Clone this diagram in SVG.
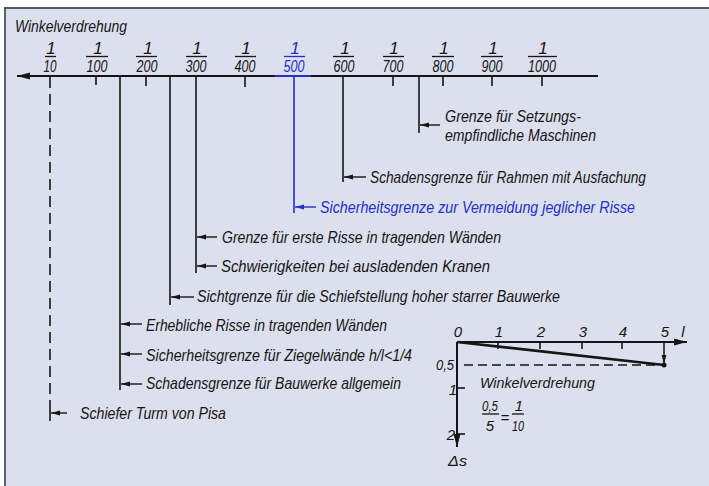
<svg xmlns="http://www.w3.org/2000/svg" width="709" height="486" viewBox="0 0 709 486">
<style>
text{font-family:"Liberation Sans Narrow","Liberation Sans",Arial,sans-serif;font-style:italic;fill:#151515}
.lb{font-size:17px}
.fr{font-size:17px;text-anchor:middle}
.sm{font-size:15px}
.smc{font-size:15px;text-anchor:middle}
.blue{fill:#2030c8}
.ln{stroke:#151515;stroke-width:1.6;fill:none}
.bl{stroke:#2030c8;stroke-width:1.6;fill:none}
.bar{stroke:#151515;stroke-width:1.3}
.arr{stroke:#151515;stroke-width:1.4;marker-end:url(#ah)}
.arrb{stroke:#2030c8;stroke-width:1.4;marker-end:url(#ahb)}
</style>
<defs>
<marker id="ah" markerUnits="userSpaceOnUse" markerWidth="9" markerHeight="6" refX="9" refY="3" orient="auto"><path d="M0,0.6 L9,3 L0,5.4z" fill="#151515"/></marker>
<marker id="ahb" markerUnits="userSpaceOnUse" markerWidth="9" markerHeight="6" refX="9" refY="3" orient="auto"><path d="M0,0.6 L9,3 L0,5.4z" fill="#2030c8"/></marker>
<marker id="big" markerUnits="userSpaceOnUse" markerWidth="13" markerHeight="8" refX="13" refY="4" orient="auto"><path d="M0,0.5 L13,4 L0,7.5z" fill="#151515"/></marker>
</defs>
<rect x="0" y="0" width="709" height="486" fill="#ffffff"/>
<rect x="4" y="8" width="705" height="478" fill="#dcdfee"/>
<line x1="4" y1="8" x2="709" y2="8" stroke="#5a5a5a" stroke-width="2"/>
<line x1="5" y1="8" x2="5" y2="486" stroke="#3a3a3a" stroke-width="1.5"/>

<g id="title"><text x="15" y="32" textLength="112" lengthAdjust="spacingAndGlyphs" style="font-size:16px">Winkelverdrehung</text></g>

<g id="scale">
<line x1="598" y1="76" x2="17" y2="76" stroke="#151515" stroke-width="2" marker-end="url(#big)"/>
<line x1="275" y1="76" x2="311" y2="76" stroke="#2030c8" stroke-width="2.2"/>
<g id="f10"><text class="fr" x="51" y="54">1</text><line class="bar" x1="45" y1="56.5" x2="56" y2="56.5"/><text class="fr" x="50" y="72" textLength="13" lengthAdjust="spacingAndGlyphs">10</text></g>
<g id="f100"><text class="fr" x="98" y="54">1</text><line class="bar" x1="86" y1="56.5" x2="108" y2="56.5"/><text class="fr" x="97" y="72" textLength="21" lengthAdjust="spacingAndGlyphs">100</text></g>
<g id="f200"><text class="fr" x="148" y="54">1</text><line class="bar" x1="136" y1="56.5" x2="157" y2="56.5"/><text class="fr" x="147" y="72" textLength="21" lengthAdjust="spacingAndGlyphs">200</text></g>
<g id="f300"><text class="fr" x="197" y="54">1</text><line class="bar" x1="186" y1="56.5" x2="207" y2="56.5"/><text class="fr" x="196" y="72" textLength="21" lengthAdjust="spacingAndGlyphs">300</text></g>
<g id="f400"><text class="fr" x="246" y="54">1</text><line class="bar" x1="235" y1="56.5" x2="256" y2="56.5"/><text class="fr" x="245" y="72" textLength="21" lengthAdjust="spacingAndGlyphs">400</text></g>
<g id="f500"><text class="fr blue" x="295" y="54">1</text><line x1="284" y1="56.5" x2="305" y2="56.5" stroke="#2030c8" stroke-width="1.3"/><text class="fr blue" x="294" y="72" textLength="21" lengthAdjust="spacingAndGlyphs">500</text></g>
<g id="f600"><text class="fr" x="345" y="54">1</text><line class="bar" x1="333" y1="56.5" x2="354" y2="56.5"/><text class="fr" x="344" y="72" textLength="21" lengthAdjust="spacingAndGlyphs">600</text></g>
<g id="f700"><text class="fr" x="394" y="54">1</text><line class="bar" x1="383" y1="56.5" x2="404" y2="56.5"/><text class="fr" x="393" y="72" textLength="21" lengthAdjust="spacingAndGlyphs">700</text></g>
<g id="f800"><text class="fr" x="444" y="54">1</text><line class="bar" x1="432" y1="56.5" x2="454" y2="56.5"/><text class="fr" x="443" y="72" textLength="21" lengthAdjust="spacingAndGlyphs">800</text></g>
<g id="f900"><text class="fr" x="493" y="54">1</text><line class="bar" x1="481" y1="56.5" x2="503" y2="56.5"/><text class="fr" x="492" y="72" textLength="21" lengthAdjust="spacingAndGlyphs">900</text></g>
<g id="f1000"><text class="fr" x="543" y="54">1</text><line class="bar" x1="528" y1="56.5" x2="557" y2="56.5"/><text class="fr" x="542" y="72" textLength="28" lengthAdjust="spacingAndGlyphs">1000</text></g>
<g id="ticks" class="ln">
<line x1="96" y1="76" x2="96" y2="85"/><line x1="146" y1="76" x2="146" y2="86"/><line x1="245" y1="76" x2="245" y2="87"/>
<line x1="393" y1="76" x2="393" y2="86"/><line x1="443" y1="76" x2="443" y2="86"/><line x1="492" y1="76" x2="492" y2="86"/><line x1="542" y1="76" x2="542" y2="86"/>
</g>
</g>

<g id="connectors">
<line x1="50" y1="77" x2="50" y2="407" stroke="#151515" stroke-width="1.6" stroke-dasharray="11 6"/>
<line class="ln" x1="50" y1="407" x2="50" y2="421"/>
<line class="ln" x1="120" y1="76" x2="120" y2="390"/>
<line class="ln" x1="170" y1="76" x2="170" y2="305"/>
<line class="ln" x1="196" y1="76" x2="196" y2="273"/>
<line class="bl" x1="294" y1="76" x2="294" y2="213"/>
<line class="ln" x1="343" y1="76" x2="343" y2="182"/>
<line class="ln" x1="419" y1="76" x2="419" y2="133"/>
<line class="arr" x1="440" y1="125" x2="420" y2="125"/>
<line class="arr" x1="366" y1="177" x2="344" y2="177"/>
<line class="arrb" x1="316" y1="207" x2="295" y2="207"/>
<line class="arr" x1="217" y1="237" x2="197" y2="237"/>
<line class="arr" x1="217" y1="266" x2="197" y2="266"/>
<line class="arr" x1="194" y1="297" x2="171" y2="297"/>
<line class="arr" x1="142" y1="324" x2="121" y2="324"/>
<line class="arr" x1="142" y1="354" x2="121" y2="354"/>
<line class="arr" x1="142" y1="384" x2="121" y2="384"/>
<line class="arr" x1="67" y1="413" x2="51" y2="413"/>
</g>

<g id="n-setzung"><text class="lb" x="445" y="122" textLength="136" lengthAdjust="spacingAndGlyphs">Grenze für Setzungs-</text><text class="lb" x="445" y="141" textLength="151" lengthAdjust="spacingAndGlyphs">empfindliche Maschinen</text></g>
<g id="n-rahmen"><text class="lb" x="370" y="183" textLength="276" lengthAdjust="spacingAndGlyphs">Schadensgrenze für Rahmen mit Ausfachung</text></g>
<g id="n-risse"><text class="lb blue" x="320" y="213" textLength="315" lengthAdjust="spacingAndGlyphs">Sicherheitsgrenze zur Vermeidung jeglicher Risse</text></g>
<g id="n-erste"><text class="lb" x="222" y="243" textLength="279" lengthAdjust="spacingAndGlyphs">Grenze für erste Risse in tragenden Wänden</text></g>
<g id="n-kranen"><text class="lb" x="221" y="272" textLength="269" lengthAdjust="spacingAndGlyphs">Schwierigkeiten  bei  ausladenden  Kranen</text></g>
<g id="n-sicht"><text class="lb" x="197" y="302" textLength="363" lengthAdjust="spacingAndGlyphs">Sichtgrenze für die Schiefstellung hoher starrer Bauwerke</text></g>
<g id="n-erheblich"><text class="lb" x="146" y="331" textLength="241" lengthAdjust="spacingAndGlyphs">Erhebliche Risse in tragenden Wänden</text></g>
<g id="n-ziegel"><text class="lb" x="146" y="361" textLength="266" lengthAdjust="spacingAndGlyphs">Sicherheitsgrenze für Ziegelwände h/l&lt;1/4</text></g>
<g id="n-bauwerke"><text class="lb" x="146" y="389" textLength="255" lengthAdjust="spacingAndGlyphs">Schadensgrenze für Bauwerke allgemein</text></g>
<g id="n-pisa"><text class="lb" x="80" y="419" textLength="146" lengthAdjust="spacingAndGlyphs">Schiefer Turm von Pisa</text></g>

<g id="inset">
<line x1="457" y1="342" x2="687" y2="342" stroke="#151515" stroke-width="2" marker-end="url(#big)"/>
<line x1="457" y1="342" x2="457" y2="447" stroke="#151515" stroke-width="2" marker-end="url(#big)"/>
<g class="ln"><line x1="498" y1="342" x2="498" y2="349"/><line x1="540" y1="342" x2="540" y2="349"/><line x1="582" y1="342" x2="582" y2="349"/><line x1="622" y1="342" x2="622" y2="349"/>
<line x1="457" y1="388" x2="465" y2="388"/><line x1="457" y1="434" x2="465" y2="434"/></g>
<line x1="664" y1="342" x2="664" y2="364" stroke="#151515" stroke-width="1.5" marker-end="url(#ah)"/>
<line x1="457" y1="342" x2="664" y2="365" stroke="#151515" stroke-width="2.6"/>
<line x1="464" y1="365" x2="660" y2="365" stroke="#151515" stroke-width="1.6" stroke-dasharray="9 5"/>
<circle cx="664" cy="365" r="2.5" fill="#151515"/>
<text class="smc" x="458" y="337">0</text><text class="smc" x="499" y="337">1</text><text class="smc" x="541" y="337">2</text><text class="smc" x="583" y="337">3</text><text class="smc" x="623" y="337">4</text><text class="smc" x="665" y="337">5</text><text class="smc" x="683" y="337">l</text>
<text class="sm" x="454" y="370" text-anchor="end" textLength="18" lengthAdjust="spacingAndGlyphs">0,5</text>
<text class="sm" x="457" y="395" text-anchor="end">1</text>
<text class="sm" x="455" y="440" text-anchor="end">2</text>
<text class="sm" x="448" y="466" textLength="19" lengthAdjust="spacingAndGlyphs">Δs</text>
<text class="sm" x="480" y="388" textLength="115" lengthAdjust="spacingAndGlyphs">Winkelverdrehung</text>
<text class="smc" x="490" y="411" textLength="16" lengthAdjust="spacingAndGlyphs">0,5</text>
<line class="bar" x1="482" y1="414" x2="499" y2="414"/>
<text class="smc" x="490" y="431">5</text>
<text class="smc" x="505" y="423">=</text>
<text class="smc" x="519" y="411">1</text>
<line class="bar" x1="512" y1="414" x2="524" y2="414"/>
<text class="smc" x="518" y="431" textLength="12" lengthAdjust="spacingAndGlyphs">10</text>
</g>
</svg>
